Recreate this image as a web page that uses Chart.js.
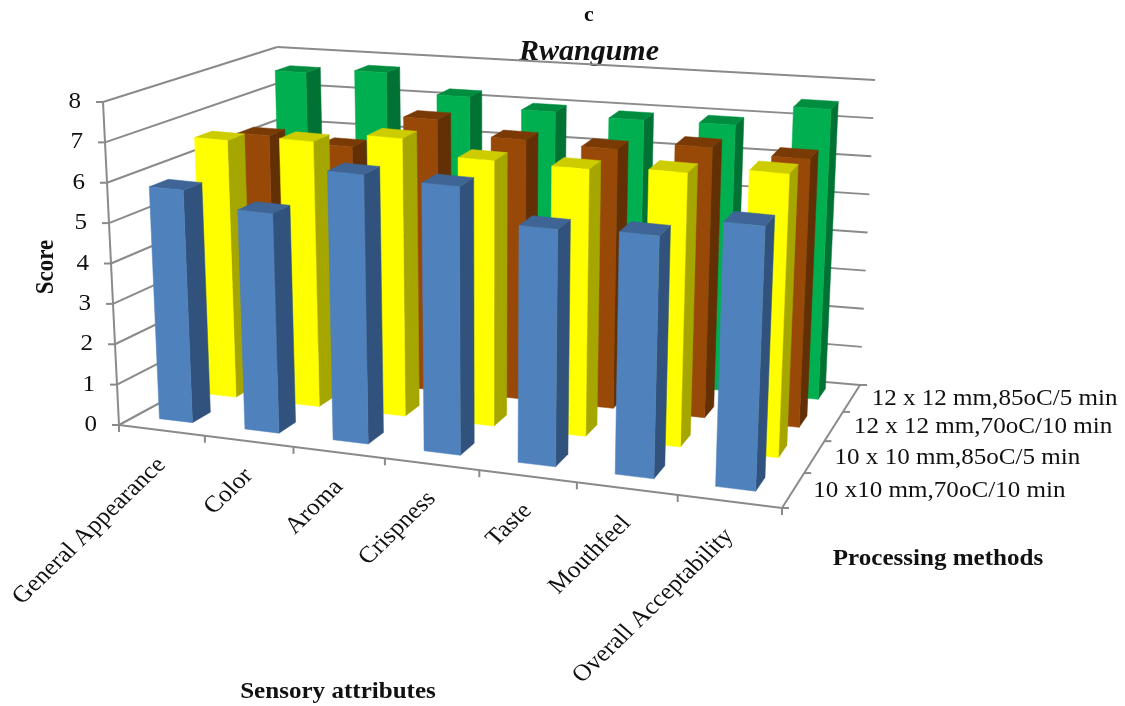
<!DOCTYPE html>
<html>
<head>
<meta charset="utf-8">
<title>Rwangume</title>
<style>
  html, body { margin: 0; background: #fff; }
  canvas { display: block; }
</style>
<script src="https://cdn.jsdelivr.net/npm/chart.js@4"></script>
</head>
<body>
<canvas id="chart" width="1125" height="706"></canvas>
<script>
const categories = ['General Appearance', 'Color', 'Aroma', 'Crispness', 'Taste', 'Mouthfeel', 'Overall Acceptability'];
const methods = ['10 x10 mm,70oC/10 min', '10 x 10 mm,85oC/5 min', '12 x 12 mm,70oC/10 min', '12 x 12 mm,85oC/5 min'];
const scoreTicks = [0, 1, 2, 3, 4, 5, 6, 7, 8];

const scores10x70 = [5.8, 5.45, 6.65, 6.6, 5.8, 5.9, 6.4];
const scores10x85 = [6.6, 6.77, 7.05, 6.7, 6.7, 6.83, 7.03];
const scores12x70 = [6.3, 6.18, 7.07, 6.72, 6.67, 6.9, 6.8];
const scores12x85 = [7.6, 7.74, 7.23, 6.98, 6.92, 6.95, 7.52];

// front, top and side shade of each row of bars
const faceColors = ['#4f81bd', '#ffff00', '#984807', '#00b050'];
const topColors = ['#3e6595', '#cccc00', '#7a3a06', '#008d40'];
const sideColors = ['#30527c', '#a6a600', '#632f04', '#007234'];

// floor corners on screen as [left front, right front, right back, left back], height of the box at each
const floorQuad = [[119, 425], [782, 508], [860, 385], [285, 335]];
const boxHeights = [323, 335, 305, 288];
const verticalVanish = [489, 7900];
const warpAlong = 1.12;
const warpDeep = 0.84;

const barSpanU = [0.28, 0.67];
const barSpanD = [0.35, 0.75];
const gridColor = '#8a8a8a';
const serif = '"Liberation Serif", "Times New Roman", serif';
const textStretch = 1.09;

const warp = (s, c) => s / (s + c * (1 - s));
const bilinear = (v, s, r) =>
    (v[0] * (1 - s) + v[1] * s) * (1 - r) + (v[3] * (1 - s) + v[2] * s) * r;

function project(u, d, z) {
    const s = warp(u / categories.length, warpAlong);
    const r = warp(d / methods.length, warpDeep);
    const x = bilinear(floorQuad.map(p => p[0]), s, r);
    const y = bilinear(floorQuad.map(p => p[1]), s, r);
    const lift = bilinear(boxHeights, s, r) * z / scoreTicks[scoreTicks.length - 1];
    const lean = (x - verticalVanish[0]) / (verticalVanish[1] - y);
    return [x + lean * lift, y - lift];
}

function fillPoly(ctx, pts, color) {
    ctx.beginPath();
    pts.forEach((p, i) => i ? ctx.lineTo(p[0], p[1]) : ctx.moveTo(p[0], p[1]));
    ctx.closePath();
    ctx.fillStyle = color;
    ctx.strokeStyle = color;
    ctx.lineWidth = 0.5;
    ctx.fill();
    ctx.stroke();
}

function segment(ctx, a, b) {
    ctx.beginPath();
    ctx.moveTo(a[0], a[1]);
    ctx.lineTo(b[0], b[1]);
    ctx.stroke();
}

function label(ctx, text, x, y, font, opts = {}) {
    ctx.save();
    ctx.translate(x, y);
    ctx.scale(textStretch, 1);
    ctx.rotate(opts.angle || 0);
    ctx.font = font;
    ctx.fillStyle = opts.color || '#111';
    ctx.textAlign = opts.align || 'left';
    ctx.textBaseline = 'middle';
    ctx.fillText(text, 0, 0);
    ctx.restore();
}

// bar controller that paints each bar as a box standing in the projected plot
class Bar3dController extends Chart.BarController {
    draw() {
        const ctx = this.chart.ctx;
        const meta = this._cachedMeta;
        const xs = meta.xScale, ys = meta.yScale;
        const row = this.index;
        const d0 = row + barSpanD[0], d1 = row + barSpanD[1];
        ctx.save();
        meta.data.forEach((bar, i) => {
            const left = xs.getPixelForValue(i) - xs.width / categories.length / 2;
            const cat = (left - xs.left) / xs.width * categories.length;
            const u0 = cat + barSpanU[0], u1 = cat + barSpanU[1];
            const z = ys.getValueForPixel(bar.y);
            fillPoly(ctx, [project(u1, d0, 0), project(u1, d1, 0), project(u1, d1, z), project(u1, d0, z)], sideColors[row]);
            fillPoly(ctx, [project(u0, d0, z), project(u1, d0, z), project(u1, d1, z), project(u0, d1, z)], topColors[row]);
            fillPoly(ctx, [project(u0, d0, 0), project(u1, d0, 0), project(u1, d0, z), project(u0, d0, z)], faceColors[row]);
        });
        ctx.restore();
    }
}
Bar3dController.id = 'bar3d';
Bar3dController.defaults = Chart.BarController.defaults;
Bar3dController.overrides = Chart.BarController.overrides;
Chart.register(Bar3dController);

// walls, floor edges, ticks and axis text of the box
const boxPlugin = {
    id: 'box3d',
    beforeDatasetsDraw(chart) {
        const ctx = chart.ctx;
        const nU = categories.length, nD = methods.length;
        ctx.save();
        ctx.strokeStyle = gridColor;
        ctx.lineWidth = 2;
        scoreTicks.forEach(t => {
            segment(ctx, project(0, 0, t), project(0, nD, t));
            segment(ctx, project(0, nD, t), project(nU, nD, t));
            const p = project(0, 0, t);
            segment(ctx, p, [p[0] - 7, p[1]]);
        });
        segment(ctx, project(0, 0, 0), project(0, 0, 8));
        segment(ctx, project(0, 0, 0), project(nU, 0, 0));
        segment(ctx, project(nU, 0, 0), project(nU, nD, 0));
        for (let i = 0; i <= nU; i++) {
            const p = project(i, 0, 0);
            segment(ctx, p, [p[0], p[1] + 7]);
        }
        for (let i = 0; i <= nD; i++) {
            const p = project(nU, i, 0);
            segment(ctx, p, [p[0] + 7, p[1]]);
        }
        ctx.restore();
    },
    afterDraw(chart) {
        const ctx = chart.ctx;
        const body = '23px ' + serif, bold = 'bold 23px ' + serif;
        scoreTicks.forEach(t => {
            const p = project(0, 0, t);
            label(ctx, String(t), p[0] - 22, p[1], body, { align: 'right' });
        });
        categories.forEach((c, i) => {
            const p = project(i + 0.5, 0, 0);
            label(ctx, c, p[0], p[1] + 31, '23.5px ' + serif, { align: 'right', angle: -46.5 * Math.PI / 180 });
        });
        methods.forEach((m, i) => {
            const p = project(categories.length, i + 0.5, 0);
            label(ctx, m, p[0] + 20, p[1] + 1, body);
        });
        label(ctx, 'Score', 47, 267, bold, { align: 'center', angle: -Math.PI / 2 });
        label(ctx, 'Sensory attributes', 338, 692, bold, { align: 'center' });
        label(ctx, 'Processing methods', 938, 559, bold, { align: 'center' });
    }
};

new Chart(document.getElementById('chart'), {
    type: 'bar3d',
    data: {
        labels: categories,
        datasets: [
            { label: methods[0], data: scores10x70, backgroundColor: faceColors[0], clip: false },
            { label: methods[1], data: scores10x85, backgroundColor: faceColors[1], clip: false },
            { label: methods[2], data: scores12x70, backgroundColor: faceColors[2], clip: false },
            { label: methods[3], data: scores12x85, backgroundColor: faceColors[3], clip: false }
        ]
    },
    options: {
        responsive: false,
        animation: false,
        layout: { padding: { left: 53 } },
        scales: {
            x: { display: false },
            y: { display: false, min: 0, max: 8 }
        },
        plugins: {
            legend: { display: false },
            tooltip: { enabled: false },
            title: {
                display: true,
                text: 'c',
                color: '#111',
                fullSize: false,
                font: { family: serif, size: 22, weight: 'bold' },
                padding: { top: 2, bottom: 0 }
            },
            subtitle: {
                display: true,
                text: 'Rwangume',
                color: '#111',
                fullSize: false,
                font: { family: serif, size: 30, weight: 'bold', style: 'italic' },
                padding: { top: 6, bottom: 0 }
            }
        }
    },
    plugins: [boxPlugin]
});
</script>
</body>
</html>
